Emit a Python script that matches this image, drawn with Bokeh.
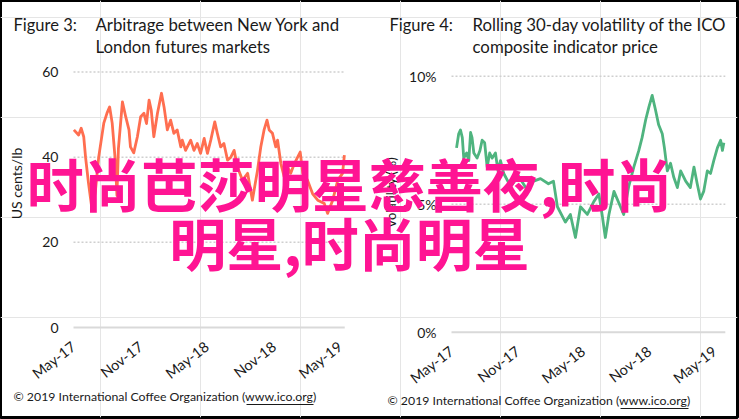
import pandas as pd
from math import pi
from bokeh.plotting import figure
from bokeh.models import (Range1d, LinearAxis, FixedTicker, Label, ColumnDataSource,
                          PrintfTickFormatter, BoxAnnotation)
from bokeh.embed import file_html
from bokeh.resources import INLINE

# ---------------- data ----------------
arb_dates = ["2017-05-02", "2017-05-15", "2017-05-22", "2017-05-29", "2017-06-03", "2017-06-11",
             "2017-06-21", "2017-06-30", "2017-07-09", "2017-07-23", "2017-08-01", "2017-08-08",
             "2017-08-15", "2017-08-24", "2017-08-28", "2017-09-01", "2017-09-12", "2017-09-21",
             "2017-09-30", "2017-10-04", "2017-10-13", "2017-10-23", "2017-11-01", "2017-11-10",
             "2017-11-17", "2017-11-24", "2017-11-30", "2017-12-07", "2017-12-17", "2017-12-28",
             "2018-01-04", "2018-01-13", "2018-01-22", "2018-01-31", "2018-02-09", "2018-02-19",
             "2018-02-23", "2018-03-04", "2018-03-18", "2018-03-27", "2018-04-05", "2018-04-14",
             "2018-04-24", "2018-05-03", "2018-05-12", "2018-05-23", "2018-05-30", "2018-06-08",
             "2018-06-17", "2018-06-27", "2018-07-06", "2018-07-15", "2018-07-24", "2018-08-07",
             "2018-08-21", "2018-09-03", "2018-09-17", "2018-09-26", "2018-10-05", "2018-10-13",
             "2018-10-19", "2018-10-28", "2018-11-06", "2018-11-11", "2018-11-20", "2018-11-29",
             "2018-12-08", "2018-12-17", "2018-12-27", "2019-01-05", "2019-01-12", "2019-01-19",
             "2019-02-01", "2019-02-15", "2019-03-01", "2019-03-19", "2019-03-28", "2019-04-11",
             "2019-04-25", "2019-05-08", "2019-05-13"]
arb_values = [46.4, 45.2, 46.8, 44.8, 40.0, 34.0, 27.5, 32.0, 40.0, 48.0, 50.4, 51.8,
              48.0, 38.6, 31.0, 42.0, 53.0, 49.5, 46.4, 42.4, 41.0, 44.8, 49.5, 50.3,
              47.9, 53.4, 51.0, 44.8, 50.3, 55.0, 51.8, 46.4, 48.7, 45.6, 46.4, 42.4,
              44.0, 41.6, 44.0, 41.6, 43.2, 40.9, 44.4, 40.9, 44.0, 48.3, 45.6, 42.4,
              43.2, 39.3, 40.0, 41.6, 37.7, 34.6, 36.2, 29.9, 36.9, 42.4, 46.4, 48.7,
              46.4, 45.6, 42.4, 44.0, 38.5, 35.4, 37.7, 36.2, 38.5, 40.0, 41.2, 36.2,
              34.6, 31.4, 29.9, 29.1, 26.8, 29.9, 34.6, 36.2, 40.5]

vol_dates = ["2017-05-15", "2017-05-21", "2017-05-26", "2017-05-31", "2017-06-04", "2017-06-12",
             "2017-06-18", "2017-06-23", "2017-06-27", "2017-07-02", "2017-07-11", "2017-07-19",
             "2017-07-25", "2017-08-01", "2017-08-08", "2017-08-15", "2017-08-22", "2017-08-31",
             "2017-09-07", "2017-09-14", "2017-09-23", "2017-10-12", "2017-11-03", "2017-11-25",
             "2017-12-15", "2018-01-03", "2018-01-25", "2018-02-08", "2018-02-19", "2018-03-13",
             "2018-03-27", "2018-04-10", "2018-04-24", "2018-05-13", "2018-05-31", "2018-06-14",
             "2018-06-23", "2018-07-02", "2018-07-12", "2018-07-26", "2018-08-13", "2018-08-22",
             "2018-09-05", "2018-09-19", "2018-10-03", "2018-10-12", "2018-10-22", "2018-10-31",
             "2018-11-09", "2018-11-18", "2018-11-27", "2018-12-07", "2018-12-13", "2018-12-21",
             "2018-12-30", "2019-01-08", "2019-01-18", "2019-01-27", "2019-02-10", "2019-02-23",
             "2019-03-05", "2019-03-14", "2019-03-23", "2019-04-01", "2019-04-11", "2019-04-20",
             "2019-04-29", "2019-05-09", "2019-05-18", "2019-05-23", "2019-05-27"]
vol_values = [7.2, 7.75, 7.9, 7.6, 6.8, 7.0, 6.7, 7.8, 7.6, 7.0, 6.8, 7.1,
              7.5, 7.4, 6.45, 7.0, 6.8, 7.0, 6.3, 6.7, 6.2, 5.7, 6.1, 5.6,
              5.9, 6.0, 5.8, 5.9, 4.9, 4.3, 4.6, 3.7, 4.9, 4.6, 5.1, 5.4,
              4.6, 3.7, 4.6, 5.5, 4.9, 4.6, 5.7, 6.45, 7.1, 7.6, 8.3, 8.8,
              9.25, 8.7, 8.1, 7.75, 7.2, 6.3, 6.6, 6.05, 5.65, 6.3, 5.9, 5.65,
              6.45, 5.8, 5.2, 5.5, 6.3, 6.2, 6.7, 7.2, 7.5, 7.1, 7.4]

x_tick_dates = ["2017-05-01", "2017-11-01", "2018-05-01", "2018-11-01", "2019-05-01"]
x_tick_labels = ["May-17", "Nov-17", "May-18", "Nov-18", "May-19"]
arb_y_ticks = [0, 20, 40, 60]
vol_y_ticks = [0, 5, 10]
arb_span = ["2017-05-01", "2019-05-14"]
vol_span = ["2017-05-01", "2019-05-31"]

title3 = ["Figure 3:", "Arbitrage between New York and", "London futures markets"]
title4 = ["Figure 4:", "Rolling 30-day volatility of the ICO", "composite indicator price"]
footer = "\u00a9 2019 International Coffee Organization (www.ico.org)"
overlay_lines = ["时尚芭莎明星慈善夜,时尚", "明星,时尚明星"]


def ms(dates):
    s = pd.to_datetime(pd.Series(dates))
    return ((s - pd.Timestamp("1970-01-01")) // pd.Timedelta(milliseconds=1)).astype(float).tolist()


# ---------------- layout ----------------
W, H = 739, 419
FW, FH = 737, 417
FONT = "Lato"
TXT = "#1a1a1a"
DY = 6  # text baseline correction


def xr(a_date, a_px, b_date, b_px):
    a, b = ms([a_date, b_date])
    k = (b - a) / (b_px - a_px)
    return Range1d(a - a_px * k, a + (FW - a_px) * k)


def yr(v0, y0px, v1, y1px):
    k = (v1 - v0) / (y0px - y1px)
    return Range1d(v0 - (FH - y0px) * k, v0 + y0px * k)


p = figure(width=W, height=H, output_backend="svg", toolbar_location=None, title=None,
           x_axis_location=None, y_axis_location=None,
           x_range=Range1d(0, FW), y_range=Range1d(0, FH),
           min_border_left=0, min_border_top=0, min_border_right=W - FW, min_border_bottom=H - FH)
p.outline_line_color = "black"
p.outline_line_width = 3
p.background_fill_color = "white"
p.border_fill_color = "white"

p.extra_x_ranges = {"x1": xr("2017-05-01", 73, "2019-05-01", 339.5),
                    "x2": xr("2017-05-01", 451, "2019-05-01", 714)}
p.extra_y_ranges = {"y1": yr(0, 327, 60, 71.5),
                    "y2": yr(0, 331.7, 10, 75.7)}

panels = [
    dict(xn="x1", yn="y1", span=arb_span, ticks=arb_y_ticks, dates=arb_dates, vals=arb_values,
         color="#ff6e50", fmt=None),
    dict(xn="x2", yn="y2", span=vol_span, ticks=vol_y_ticks, dates=vol_dates, vals=vol_values,
         color="#4fb47f", fmt="%d%%"),
]

tick_ms = [int(v) for v in ms(x_tick_dates)]

for pn in panels:
    x0, x1 = ms(pn["span"])
    grid_vals = [t for t in pn["ticks"] if t != 0]
    gsrc = ColumnDataSource(dict(x0=[x0] * len(grid_vals), x1=[x1] * len(grid_vals), y=grid_vals))
    p.segment(x0="x0", y0="y", x1="x1", y1="y", source=gsrc, x_range_name=pn["xn"],
              y_range_name=pn["yn"], line_color="#cfcfcf", line_width=1.5, line_dash="2 2")
    base = [t for t in pn["ticks"] if t == 0]
    bsrc = ColumnDataSource(dict(x0=[x0] * len(base), x1=[x1] * len(base), y=base))
    p.segment(x0="x0", y0="y", x1="x1", y1="y", source=bsrc, x_range_name=pn["xn"],
              y_range_name=pn["yn"], line_color="#d9d9d9", line_width=2)

    src = ColumnDataSource(dict(x=ms(pn["dates"]), y=pn["vals"]))
    p.line("x", "y", source=src, x_range_name=pn["xn"], y_range_name=pn["yn"],
           line_color=pn["color"], line_width=2.8, line_join="round")

    yax = LinearAxis(x_range_name=pn["xn"], y_range_name=pn["yn"], fixed_location=x0,
                     ticker=FixedTicker(ticks=pn["ticks"], minor_ticks=[]))
    if pn["fmt"]:
        yax.formatter = PrintfTickFormatter(format=pn["fmt"])
    xax = LinearAxis(x_range_name=pn["xn"], y_range_name=pn["yn"], fixed_location=0,
                     ticker=FixedTicker(ticks=tick_ms, minor_ticks=[]),
                     major_label_overrides={t: lab for t, lab in zip(tick_ms, x_tick_labels)},
                     major_label_orientation=0.66)
    for ax, so, fs in ((yax, 15, "14px"), (xax, 17, "14.5px")):
        ax.axis_line_color = None
        ax.major_tick_line_color = None
        ax.minor_tick_line_color = None
        ax.major_tick_out = 0
        ax.major_tick_in = 0
        ax.major_label_standoff = so
        ax.major_label_text_font = FONT
        ax.major_label_text_font_size = fs
        ax.major_label_text_color = TXT
    p.add_layout(yax, "left")
    p.add_layout(xax, "below")


def lab(text, x, y_top, size="16px", **kw):
    opts = dict(text_font=FONT, text_font_size=size, text_color=TXT, text_baseline="alphabetic")
    opts.update(kw)
    return Label(x=x, y=FH - y_top + DY, x_units="screen", y_units="screen", text=text, **opts)


# titles
p.add_layout(lab(title3[0], 13, 30, size="16.5px"))
p.add_layout(lab(title3[1], 95, 30, size="16.8px"))
p.add_layout(lab(title3[2], 95, 52, size="16.8px"))
p.add_layout(lab(title4[0], 389, 30, size="16.5px"))
p.add_layout(lab(title4[1], 472, 30, size="16.8px"))
p.add_layout(lab(title4[2], 472, 52, size="16.8px"))

# axis titles
p.add_layout(lab("US cents/lb", 16, 189, size="14px", angle=pi / 2, text_align="center",
                 text_baseline="middle"))
p.add_layout(lab("Volatility (%)", 390, 198, size="13px", angle=pi / 2, text_align="center",
                 text_baseline="middle"))

# footers
p.add_layout(lab(footer, 13, 402, size="12.3px"))
p.add_layout(lab(footer, 387, 406, size="12.3px"))
for ux0, ux1, uy in ((246, 313, 404), (620, 688, 408)):
    p.add_layout(BoxAnnotation(left=ux0, right=ux1, bottom=FH - uy - 0.5, top=FH - uy + 0.5,
                               left_units="screen", right_units="screen",
                               bottom_units="screen", top_units="screen",
                               fill_color=TXT, fill_alpha=1, line_color=None))

# overlay text
for txt, yc in zip(overlay_lines, [187, 246]):
    p.add_layout(Label(x=349, y=FH - yc + DY, x_units="screen", y_units="screen", text=txt,
                       text_font="Noto Sans CJK SC", text_font_style="bold",
                       text_font_size="57px", text_color="#ff1493", text_align="center",
                       text_baseline="middle", level="overlay"))

open("out.html", "w").write(file_html(p, INLINE))
